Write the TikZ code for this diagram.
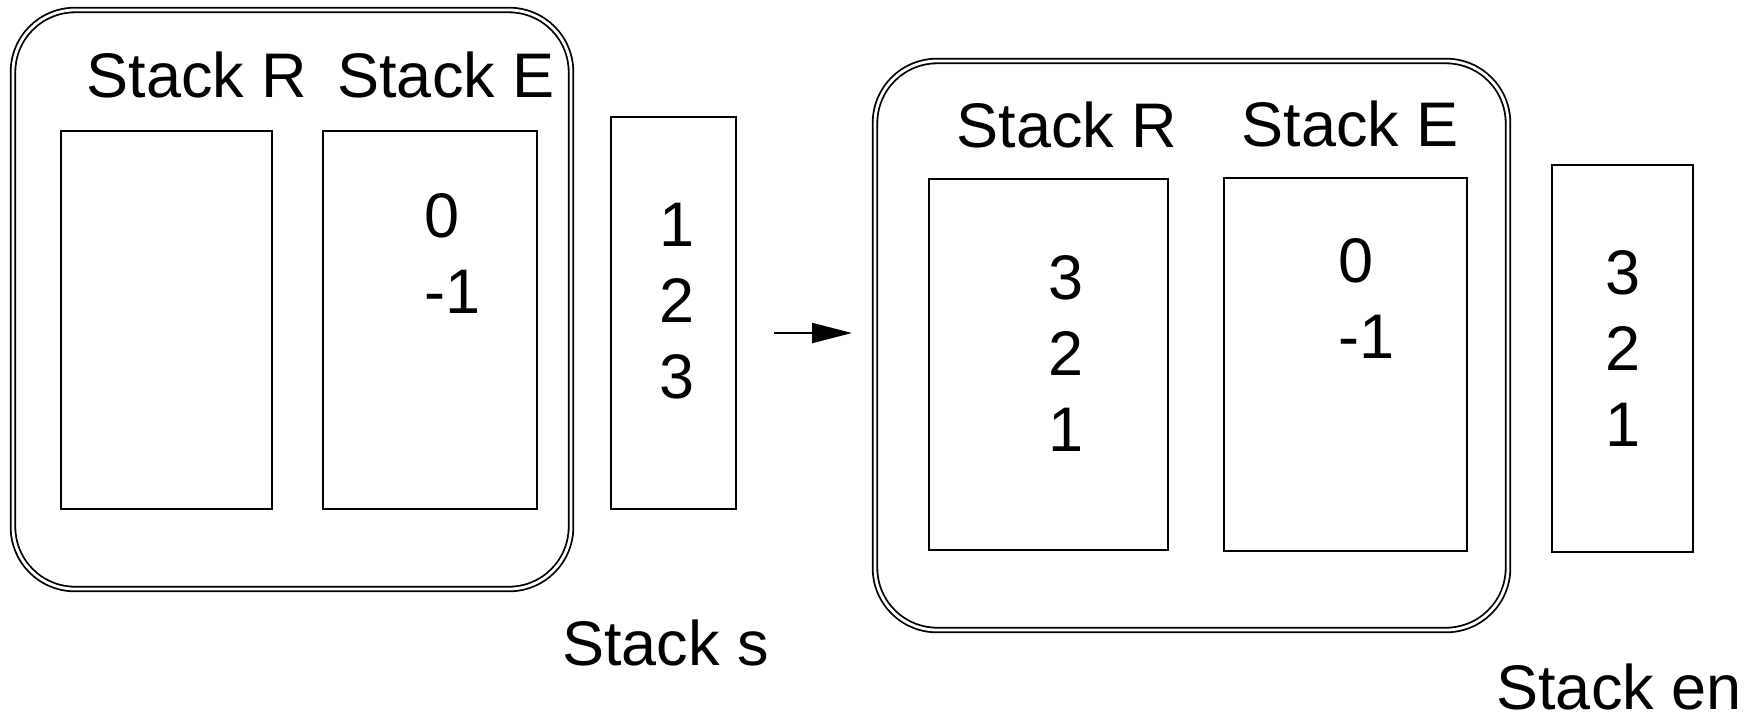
\documentclass[tikz,border=0pt]{standalone}
\usepackage{fontspec}
\setmainfont{Liberation Sans}
\usetikzlibrary{arrows.meta,positioning}

\begin{document}
\begin{tikzpicture}[x=0.5pt,y=-0.5pt]
		\tikzstyle{outerframe} = [rectangle, rounded corners=31pt, draw=black, double, 
		double distance=1.4pt, line width=0.9pt]
		\tikzstyle{stackbox} = [rectangle, draw=black, line width=1.2pt]
		\tikzstyle{stacktitle} = [inner sep=0pt, font=\fontsize{31.5}{38}\selectfont]
		\tikzstyle{stackitems} = [stacktitle, align=center, anchor=base]
		\tikzstyle{arrow} = [line width=1.1pt, -{Triangle[length=20pt,width=10pt]}]
		\useasboundingbox (0,0) rectangle (1756,714);
		% state before
		\node (frameBefore) [outerframe, minimum width=279pt, minimum height=289.5pt] at (292,299.5) {};
		\node (stackR1) [stackbox, minimum width=105.5pt, minimum height=189pt] at (166.5,320) {};
		\node (stackE1) [stackbox, minimum width=107pt, minimum height=189pt] at (430,320) {};
		\node (stackS) [stackbox, minimum width=62.5pt, minimum height=196pt] at (673.5,313) {};
		\node (titleR1) [stacktitle, above=15.5pt of stackR1, xshift=15.25pt] {Stack R};
		\node (titleE1) [stacktitle, above=15.5pt of stackE1, xshift=8pt] {Stack E};
		\node (titleS) [stacktitle, below=54.5pt of stackS, xshift=-4pt] {Stack s};
		% base is the last line
		\node (itemsE1) [stackitems, align=left, anchor=base west] at (424,313) {0\\-1};
		\node (itemsS) [stackitems] at (677,398) {1\\2\\3};
		% state after
		\node (frameAfter) [outerframe, minimum width=316.5pt, minimum height=284.5pt] at (1191.5,345.5) {};
		\node (stackR2) [stackbox, minimum width=119.5pt, minimum height=185.5pt] at (1048.5,364.5) {};
		\node (stackE2) [stackbox, minimum width=121.5pt, minimum height=186.5pt] at (1345.5,364.5) {};
		\node (stackEn) [stackbox, minimum width=70.5pt, minimum height=193.5pt] at (1622.5,358.5) {};
		\node (titleR2) [stacktitle, above=14.75pt of stackR2, xshift=9.25pt] {Stack R};
		\node (titleE2) [stacktitle, above=14.75pt of stackE2, xshift=2.25pt] {Stack E};
		\node (titleEn) [stacktitle, below=55pt of stackEn, xshift=-1.75pt] {Stack en};
		\node (itemsR2) [stackitems] at (1066,451) {3\\2\\1};
		\node (itemsE2) [stackitems, align=left, anchor=base west] at (1338,358) {0\\-1};
		\node (itemsEn) [stackitems] at (1623,446) {3\\2\\1};
		% transition
		\coordinate (arrowTail) at (774,333);
		\coordinate (arrowHead) at (852,333);
		\draw [arrow] (arrowTail) -- (arrowHead);
\end{tikzpicture}
\end{document}
